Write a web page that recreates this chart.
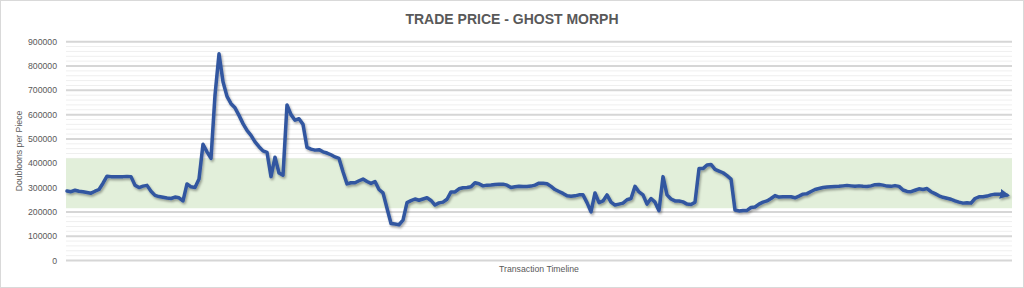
<!DOCTYPE html>
<html>
<head>
<meta charset="utf-8">
<script src="https://cdn.jsdelivr.net/npm/d3@7"></script>
<style>
  body { margin: 0; background: #fff; }
  text { font-family: 'Liberation Sans', Arial, sans-serif; }
</style>
</head>
<body>
<div id="chart"></div>
<script>
'use strict';

const chartTitle = 'TRADE PRICE - GHOST MORPH';
const yTitle = 'Doubloons per Piece';
const xTitle = 'Transaction Timeline';

const yTicks = [0, 100000, 200000, 300000, 400000, 500000, 600000, 700000, 800000, 900000];
const normalRange = [215000, 420000];

// trade prices in thousands of doubloons, one per transaction
const pricesK = [
  286, 283, 289, 285, 283, 280, 277, 285, 292, 318,
  347, 345, 345, 345, 345, 346, 345, 310, 300, 306,
  309, 285, 268, 263, 260, 257, 255, 261, 258, 245,
  315, 303, 300, 335, 478, 447, 420, 680, 850, 735,
  675, 645, 628, 597, 563, 535, 515, 488, 468, 451,
  445, 345, 425, 360, 351, 640, 600, 577, 583, 560,
  465, 458, 454, 456, 447, 442, 435, 426, 420, 365,
  315, 320, 320, 328, 335, 325, 317, 325, 292, 278,
  215, 152, 150, 147, 166, 238, 246, 253, 248, 253,
  258, 247, 228, 237, 240, 252, 282, 282, 295, 299,
  300, 303, 320, 316, 307, 310, 311, 313, 314, 314,
  310, 300, 303, 305, 304, 304, 306, 310, 318, 318,
  316, 305, 292, 284, 276, 266, 264, 266, 270, 270,
  238, 200, 278, 238, 245, 270, 240, 228, 232, 236,
  250, 255, 305, 282, 270, 232, 255, 240, 205, 345,
  270, 253, 245, 245, 241, 232, 230, 240, 378, 378,
  393, 395, 375, 368, 361, 349, 335, 208, 204, 206,
  206, 218, 220, 232, 240, 245, 255, 267, 261, 262,
  262, 262, 258, 265, 273, 275, 284, 292, 296, 300,
  302, 303, 304, 305, 307, 309, 307, 305, 307, 305,
  304, 307, 312, 313, 310, 306, 305, 308, 305, 290,
  284, 283, 289, 295, 292, 296, 283, 275, 266, 260,
  256, 252, 245, 240, 236, 238, 236, 255, 262, 262,
  265, 270, 273, 273, 272, 269
];

const prices = pricesK.map(function(v) { return v * 1000; });

drawChart();

function drawChart() {
  let width = 1024;
  let height = 288;
  let plotLeft = 66;
  let plotRight = 1012;
  let lineColour = '#3157a0';
  let textColour = '#595959';

  let svg = d3
    .select('#chart')
    .append('svg')
    .attr('width', width)
    .attr('height', height);

  let defs = svg.append('defs');

  let shadow = defs
    .append('filter')
    .attr('id', 'line-shadow')
    .attr('x', '-5%')
    .attr('y', '-20%')
    .attr('width', '110%')
    .attr('height', '140%');
  shadow
    .append('feDropShadow')
    .attr('dx', 1.2)
    .attr('dy', 1.8)
    .attr('stdDeviation', 1.2)
    .attr('flood-color', '#000')
    .attr('flood-opacity', 0.35);

  defs
    .append('marker')
    .attr('id', 'arrow')
    .attr('markerUnits', 'userSpaceOnUse')
    .attr('viewBox', '0 0 10 10')
    .attr('markerWidth', 10)
    .attr('markerHeight', 10)
    .attr('refX', 7)
    .attr('refY', 5)
    .attr('orient', 'auto')
    .append('path')
    .attr('d', 'M0,0 L10,5 L0,10 Z')
    .attr('fill', lineColour);

  svg
    .append('rect')
    .attr('x', 0.5)
    .attr('y', 0.5)
    .attr('width', width - 1)
    .attr('height', height - 1)
    .attr('fill', '#fff')
    .attr('stroke', '#d9d9d9');

  let y = d3
    .scaleLinear()
    .domain([0, 900000])
    .range([260.5, 41.7]);

  let x = d3
    .scaleLinear()
    .domain([0, prices.length - 1])
    .range([67, 1007]);

  // minor gridlines
  svg
    .append('g')
    .selectAll('line')
    .data(y.ticks(45).filter(function(t) { return t % 100000 !== 0; }))
    .join('line')
    .attr('x1', plotLeft)
    .attr('x2', plotRight)
    .attr('y1', function(d) { return y(d); })
    .attr('y2', function(d) { return y(d); })
    .attr('stroke', '#efefef')
    .attr('stroke-width', 1);

  // major gridlines
  svg
    .append('g')
    .selectAll('line')
    .data(yTicks)
    .join('line')
    .attr('x1', plotLeft)
    .attr('x2', plotRight)
    .attr('y1', function(d) { return y(d); })
    .attr('y2', function(d) { return y(d); })
    .attr('stroke', '#d6d6d6')
    .attr('stroke-width', 2);

  // normal trading band
  svg
    .append('rect')
    .attr('x', plotLeft)
    .attr('width', plotRight - plotLeft)
    .attr('y', y(normalRange[1]))
    .attr('height', y(normalRange[0]) - y(normalRange[1]))
    .attr('fill', '#e2efda');

  svg
    .append('g')
    .selectAll('text')
    .data(yTicks)
    .join('text')
    .attr('x', 57)
    .attr('y', function(d) { return y(d); })
    .attr('dy', '0.35em')
    .attr('text-anchor', 'end')
    .attr('font-size', '8.7px')
    .attr('fill', textColour)
    .text(function(d) { return d3.format('d')(d); });

  let line = d3
    .line()
    .x(function(d, i) { return x(i); })
    .y(function(d) { return y(d); })
    .curve(d3.curveLinear);

  svg
    .append('path')
    .datum(prices)
    .attr('d', line)
    .attr('fill', 'none')
    .attr('stroke', lineColour)
    .attr('stroke-width', 3.5)
    .attr('stroke-linejoin', 'round')
    .attr('stroke-linecap', 'round')
    .attr('marker-end', 'url(#arrow)')
    .attr('filter', 'url(#line-shadow)');

  svg
    .append('text')
    .attr('x', 512)
    .attr('y', 24)
    .attr('text-anchor', 'middle')
    .attr('font-size', '14px')
    .attr('font-weight', 'bold')
    .attr('fill', textColour)
    .text(chartTitle);

  svg
    .append('text')
    .attr('transform', 'translate(22,151) rotate(-90)')
    .attr('text-anchor', 'middle')
    .attr('font-size', '8.7px')
    .attr('fill', textColour)
    .text(yTitle);

  svg
    .append('text')
    .attr('x', 539)
    .attr('y', 272)
    .attr('text-anchor', 'middle')
    .attr('font-size', '8.7px')
    .attr('fill', textColour)
    .text(xTitle);
}
</script>
</body>
</html>
